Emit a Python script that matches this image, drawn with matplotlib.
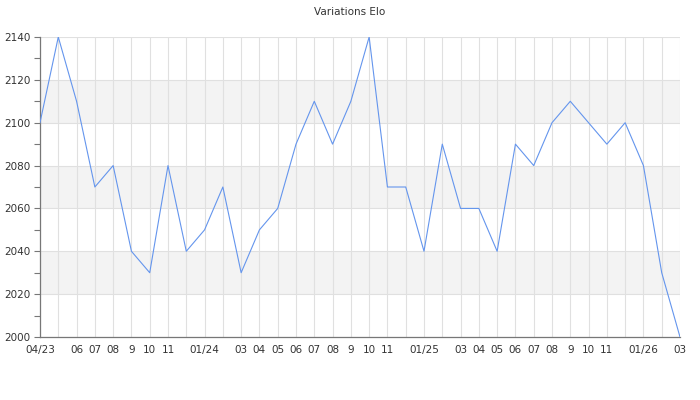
import matplotlib.pyplot as plt
import numpy as np

# Elo mensuel, d'avril 2023 à mars 2026
mois = ["04/23", "", "06", "07", "08", "9", "10", "11", "", "01/24", "", "03",
        "04", "05", "06", "07", "08", "9", "10", "11", "", "01/25", "", "03",
        "04", "05", "06", "07", "08", "9", "10", "11", "", "01/26", "", "03"]
elo = [2100, 2140, 2110, 2070, 2080, 2040, 2030, 2080, 2040, 2050, 2070, 2030,
       2050, 2060, 2090, 2110, 2090, 2110, 2140, 2070, 2070, 2040, 2090, 2060,
       2060, 2040, 2090, 2080, 2100, 2110, 2100, 2090, 2100, 2080, 2030, 2000]
y_ticks = [2000, 2020, 2040, 2060, 2080, 2100, 2120, 2140]

fig = plt.figure(figsize=(7, 4), dpi=100)
ax = fig.add_axes([40 / 700, 1 - 337 / 400, 640 / 700, 300 / 400])

x = np.arange(len(elo))

# bandes grises alternées
for lo in (2020, 2060, 2100):
    ax.axhspan(lo, lo + 20, color="#f3f3f3", zorder=0, lw=0)

ax.plot(x, elo, color="#6495ed", lw=0.8, zorder=3)

ax.set_xlim(0, len(elo) - 1)
ax.set_ylim(2000, 2140)
ax.set_xticks(x)
ax.set_xticklabels(mois)
ax.set_yticks(y_ticks)
ax.set_yticks(np.arange(2010, 2140, 20), minor=True)

ax.grid(True, which="major", color="#e0e0e0", lw=0.8, zorder=1)
ax.set_axisbelow(True)

for s in ("top", "right"):
    ax.spines[s].set_visible(False)
for s in ("left", "bottom"):
    ax.spines[s].set_color("#777777")
    ax.spines[s].set_linewidth(0.9)

ax.tick_params(axis="x", length=0, pad=6, labelsize=7.5, labelcolor="#333333")
ax.tick_params(axis="y", which="major", length=4, width=0.8, color="#777777",
               pad=3, labelsize=7.5, labelcolor="#333333")
ax.tick_params(axis="y", which="minor", length=4, width=0.8, color="#777777")

fig.text(0.5, 1 - 12 / 400, "Variations Elo", ha="center", va="center",
         fontsize=7.5, color="#333333")

fig.savefig("out.png", dpi=100)
